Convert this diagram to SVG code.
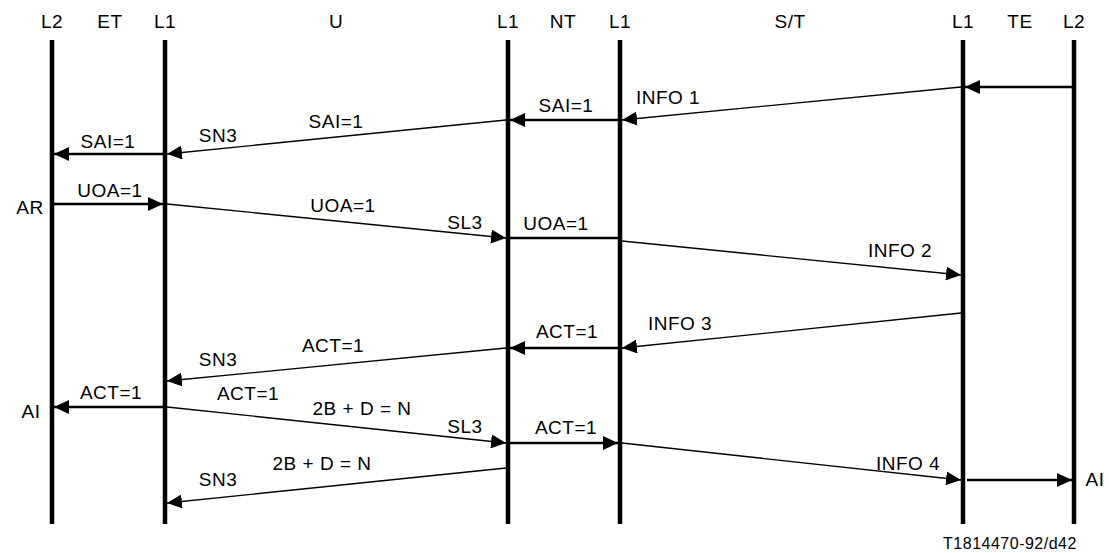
<svg xmlns="http://www.w3.org/2000/svg" width="1109" height="553" viewBox="0 0 1109 553">
<style>
text{font-family:"Liberation Sans",Arial,sans-serif;font-size:19px;fill:#000;text-anchor:middle;letter-spacing:0.5px}
.life{stroke:#000;stroke-width:4.5;fill:none}
.thick{stroke:#000;stroke-width:2.6;fill:none}
.thin{stroke:#000;stroke-width:1.3;fill:none}
.fig{font-size:16px;letter-spacing:0.5px}
</style>
<defs>
<marker id="ah" markerUnits="userSpaceOnUse" markerWidth="15" markerHeight="14" refX="15" refY="7" orient="auto" viewBox="0 0 15 14">
<path d="M0,0 L15,7 L0,14 Z" fill="#000"/>
</marker>
</defs>
<g id="headers">
<text x="52" y="28">L2</text>
<text x="110" y="28">ET</text>
<text x="165" y="28">L1</text>
<text x="336" y="28">U</text>
<text x="508" y="28">L1</text>
<text x="563" y="28">NT</text>
<text x="620" y="28">L1</text>
<text x="790" y="28">S/T</text>
<text x="963" y="28">L1</text>
<text x="1020" y="28">TE</text>
<text x="1074" y="28">L2</text>
</g>
<g id="lifelines">
<line id="et-l2" class="life" x1="52" y1="40" x2="52" y2="524"/>
<line id="et-l1" class="life" x1="165" y1="40" x2="165" y2="524"/>
<line id="nt-l1a" class="life" x1="508" y1="40" x2="508" y2="524"/>
<line id="nt-l1b" class="life" x1="620" y1="40" x2="620" y2="524"/>
<line id="te-l1" class="life" x1="963" y1="40" x2="963" y2="524"/>
<line id="te-l2" class="life" x1="1074" y1="40" x2="1074" y2="524"/>
</g>
<g id="connectors">
<line class="thick" x1="1072" y1="87" x2="965" y2="87" marker-end="url(#ah)"/>
<line class="thin" x1="961" y1="87" x2="622" y2="120" marker-end="url(#ah)"/>
<line class="thick" x1="618" y1="120" x2="510" y2="120" marker-end="url(#ah)"/>
<line class="thin" x1="506" y1="120" x2="167" y2="154" marker-end="url(#ah)"/>
<line class="thick" x1="163" y1="154" x2="54" y2="154" marker-end="url(#ah)"/>
<line class="thick" x1="54" y1="204" x2="163" y2="204" marker-end="url(#ah)"/>
<line class="thin" x1="167" y1="204" x2="506" y2="238" marker-end="url(#ah)"/>
<line class="thick" x1="510" y1="238" x2="618" y2="238"/>
<line class="thin" x1="622" y1="241" x2="961" y2="275" marker-end="url(#ah)"/>
<line class="thin" x1="961" y1="313" x2="622" y2="348" marker-end="url(#ah)"/>
<line class="thick" x1="618" y1="348" x2="510" y2="348" marker-end="url(#ah)"/>
<line class="thin" x1="506" y1="348" x2="167" y2="381" marker-end="url(#ah)"/>
<line class="thick" x1="163" y1="407" x2="54" y2="407" marker-end="url(#ah)"/>
<line class="thin" x1="167" y1="407" x2="506" y2="443" marker-end="url(#ah)"/>
<line class="thick" x1="510" y1="443" x2="618" y2="443" marker-end="url(#ah)"/>
<line class="thin" x1="622" y1="443" x2="961" y2="480" marker-end="url(#ah)"/>
<line class="thick" x1="967" y1="480" x2="1072" y2="480" marker-end="url(#ah)"/>
<line class="thin" x1="506" y1="468" x2="167" y2="503" marker-end="url(#ah)"/>
</g>
<g id="labels">
<text x="668" y="104">INFO 1</text>
<text x="566" y="112">SAI=1</text>
<text x="336" y="128">SAI=1</text>
<text x="218" y="142">SN3</text>
<text x="108" y="148">SAI=1</text>
<text x="30" y="214">AR</text>
<text x="110" y="197">UOA=1</text>
<text x="343" y="212">UOA=1</text>
<text x="465" y="229">SL3</text>
<text x="556" y="230">UOA=1</text>
<text x="900" y="257">INFO 2</text>
<text x="680" y="330">INFO 3</text>
<text x="567" y="338">ACT=1</text>
<text x="333" y="352">ACT=1</text>
<text x="218" y="366">SN3</text>
<text x="111" y="399">ACT=1</text>
<text x="31" y="418">AI</text>
<text x="248" y="400">ACT=1</text>
<text x="362" y="415">2B + D = N</text>
<text x="465" y="433">SL3</text>
<text x="566" y="434">ACT=1</text>
<text x="908" y="470">INFO 4</text>
<text x="1095" y="486">AI</text>
<text x="322" y="470">2B + D = N</text>
<text x="218" y="486">SN3</text>
<text class="fig" x="1010" y="549">T1814470-92/d42</text>
</g>
</svg>
